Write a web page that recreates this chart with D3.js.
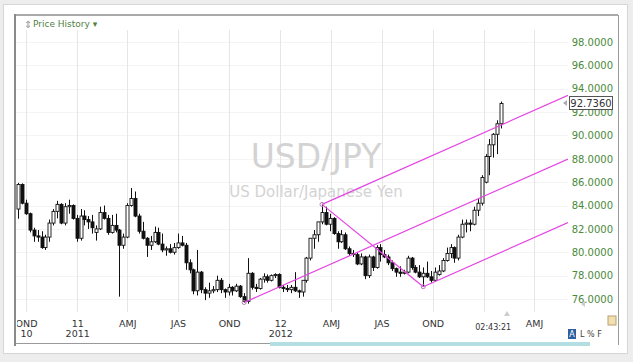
<!DOCTYPE html>
<html>
<head>
<meta charset="utf-8">
<script src="https://cdn.jsdelivr.net/npm/d3@7"></script>
<style>
  html, body { margin: 0; padding: 0; background: #ededed; }
  svg { display: block; }
  text { font-family: "DejaVu Sans", Verdana, sans-serif; }
</style>
</head>
<body>
<div id="chart"></div>
<script>
// weekly USD/JPY candles, one per week (week ending friday)
var firstWeek = "2010-09-17";
var opens = [83.7,85.8,84.2,83.3,81.9,81.4,81.3,80.4,81.3,82.5,83.5,84.1,82.5,83.9,84.0,82.9,
  81.2,83.1,82.8,82.6,81.7,82.0,83.4,82.9,81.7,82.3,81.9,80.6,81.3,84.0,84.6,83.1,81.8,81.2,80.6,80.9,81.7,80.7,80.2,80.3,80.0,80.4,80.8,80.6,79.1,78.5,76.7,78.3,76.8,76.5,76.7,76.8,77.6,76.8,76.6,77.0,76.7,77.1,76.2,75.8,78.2,77.0,76.9,77.7,77.9,77.6,78.0,78.1,
  77.0,76.9,76.8,77.0,76.7,76.6,77.6,79.5,81.2,81.5,82.6,83.4,82.4,82.9,81.6,80.9,81.5,80.3,79.9,79.8,79.0,79.6,78.0,79.6,78.7,80.4,79.8,79.6,79.1,78.6,78.3,78.2,78.3,79.5,78.7,78.3,77.9,78.2,77.9,77.6,78.1,78.4,79.3,79.9,80.4,79.5,81.3,82.4,82.5,82.4,83.6,84.2,
  86.0,88.2,89.2,90.1,91.0];
var highs = [85.94,85.9,84.5,83.4,82.1,81.9,81.8,81.5,82.8,83.7,84.4,84.2,84.2,84.5,84.1,83.2,
  83.7,83.6,83.1,83.2,82.3,83.9,84.0,83.2,83.2,83.3,82.0,81.6,84.2,85.5,85.2,83.3,82.6,81.3,81.4,82.2,82.1,81.6,80.5,80.7,80.8,81.6,81.4,80.8,79.4,78.6,80.2,78.4,77.0,77.4,77.1,78.0,77.8,76.9,77.3,77.1,77.3,77.2,76.5,79.5,78.3,77.3,77.8,78.2,78.1,78.1,78.2,78.2,
  77.2,77.2,77.2,78.3,76.8,77.6,79.6,81.2,81.9,82.6,84.1,83.9,83.3,83.0,81.8,81.9,81.7,80.5,80.2,80.0,79.9,79.7,79.8,79.7,80.6,80.7,80.2,79.8,79.3,78.7,78.8,78.5,79.7,79.6,78.9,78.9,78.7,79.2,78.4,78.7,78.9,79.5,80.4,80.7,80.5,81.5,82.8,82.8,82.8,83.9,84.6,86.6,
  88.4,89.7,90.2,91.3,92.9];
var lows = [82.87,84.1,83.2,81.7,80.9,80.9,80.3,80.2,80.9,82.3,82.9,82.4,82.3,83.3,82.8,80.9,
  81.0,82.3,82.0,81.6,81.0,81.9,82.8,81.5,81.6,81.7,76.2,80.3,81.2,83.9,83.0,81.6,81.1,79.6,80.2,80.8,80.6,80.0,79.7,79.9,79.8,80.3,80.5,78.5,78.2,76.4,76.3,76.5,75.9,76.1,76.5,76.6,76.5,76.1,76.3,76.3,76.6,76.1,75.7,75.6,76.8,76.6,76.8,77.4,77.4,77.5,77.8,76.9,
  76.6,76.6,76.5,76.6,76.1,76.2,77.4,79.3,80.3,80.9,82.4,82.3,81.8,81.5,80.3,80.8,80.2,79.7,79.6,78.9,78.9,77.7,77.8,78.4,78.6,79.2,79.5,78.9,78.4,77.9,77.9,78.1,78.2,78.5,78.2,77.8,77.05,77.8,77.4,77.5,78.0,78.3,79.2,79.5,79.1,79.3,81.2,81.7,81.8,82.3,83.1,84.0,
  85.9,86.6,88.1,88.4,90.6];
var closes = [85.8,84.2,83.3,81.9,81.4,81.3,80.4,81.3,82.5,83.5,84.1,82.5,83.9,84.0,82.9,81.2,
  83.1,82.8,82.6,82.1,82.0,83.4,82.9,81.7,82.3,81.9,80.6,81.3,84.0,84.6,83.1,81.8,81.2,80.6,80.9,81.7,80.7,80.2,80.3,80.0,80.4,80.8,80.6,79.1,78.5,76.7,78.3,76.8,76.5,76.7,76.8,77.6,76.8,76.6,77.0,76.7,77.1,76.2,75.8,78.2,77.0,76.9,77.7,77.9,77.6,78.0,78.1,77.0,
  76.9,76.8,77.0,76.7,76.6,77.6,79.5,81.2,81.5,82.6,83.4,82.4,82.9,81.6,80.9,81.5,80.3,79.9,79.8,79.0,79.6,78.0,79.6,78.7,80.4,79.8,79.6,79.1,78.6,78.3,78.2,78.3,79.5,78.7,78.3,77.9,78.2,77.9,77.6,78.3,78.4,79.3,79.9,80.4,79.5,81.3,82.4,82.5,82.4,83.6,84.2,86.4,
  88.2,89.2,90.1,91.0,92.74];

// andrews pitchfork pivots
var pivotDates = ["2011-10-28", "2012-03-16", "2012-09-14"];
var pivotPrices = [75.7, 84.1, 77.05];

// axis ticks
var priceTicks = [76, 78, 80, 82, 84, 86, 88, 90, 92, 94, 96, 98];
var quarterDates = ["2010-10-01","2011-01-01","2011-04-01","2011-07-01","2011-10-01","2012-01-01",
  "2012-04-01","2012-07-01","2012-10-01","2013-01-01","2013-04-01"];
var quarterTop = ["OND","11","AMJ","JAS","OND","12","AMJ","JAS","OND","","AMJ"];
var quarterBottom = ["10","2011","","","","2012","","","","",""];
var lastPrice = 92.736;
var clockLabel = "02:43:21";

var W = 633, H = 362;
var plot = {left: 16, right: 568, top: 30, bottom: 312};
var parse = d3.timeParse("%Y-%m-%d");

var weeks = closes.map(function(c, i) {
  return {date: d3.timeDay.offset(parse(firstWeek), 7 * i),
          o: opens[i], h: highs[i], l: lows[i], c: c};
});

var x = d3.scaleTime()
  .domain([parse(quarterDates[0]), parse(quarterDates[quarterDates.length - 1])])
  .range([26, 534]);
var y = d3.scaleLinear().domain([76, 98]).range([299, 42]);

var svg = d3.select("#chart").append("svg")
  .attr("width", W).attr("height", H);

// outer panel
svg.append("rect").attr("x", 3.5).attr("y", 4.5).attr("width", 624).attr("height", 349)
  .attr("fill", "#fff").attr("stroke", "#d6d6d6");

var defs = svg.append("defs");
defs.append("clipPath").attr("id", "plotclip").append("rect")
  .attr("x", plot.left).attr("y", plot.top)
  .attr("width", plot.right - plot.left).attr("height", plot.bottom - plot.top);
defs.append("clipPath").attr("id", "xclip").append("rect")
  .attr("x", plot.left + 1).attr("y", plot.bottom).attr("width", 560).attr("height", 30);

// grid
svg.append("g").selectAll("line.h").data(priceTicks).enter().append("line")
  .attr("x1", plot.left).attr("x2", plot.right)
  .attr("y1", function(d) { return Math.round(y(d)) + 0.5; })
  .attr("y2", function(d) { return Math.round(y(d)) + 0.5; })
  .attr("stroke", "#f4f4f4");
svg.append("g").selectAll("line.v").data(quarterDates).enter().append("line")
  .attr("x1", function(d) { return Math.round(x(parse(d))) + 0.5; })
  .attr("x2", function(d) { return Math.round(x(parse(d))) + 0.5; })
  .attr("y1", plot.top).attr("y2", plot.bottom)
  .attr("stroke", "#e6e6e6");

// watermark
svg.append("text").attr("x", 316).attr("y", 168).attr("text-anchor", "middle")
  .attr("font-size", 33).attr("fill", "#d3d3d3").text("USD/JPY");
svg.append("text").attr("x", 316).attr("y", 197).attr("text-anchor", "middle")
  .attr("font-size", 15).attr("fill", "#d3d3d3").text("US Dollar/Japanese Yen");

// candles
var cg = svg.append("g").attr("clip-path", "url(#plotclip)");
var candle = cg.selectAll("g.candle").data(weeks).enter().append("g");
candle.append("line")
  .attr("x1", function(d) { return Math.round(x(d.date)) + 0.5; })
  .attr("x2", function(d) { return Math.round(x(d.date)) + 0.5; })
  .attr("y1", function(d) { return y(d.h); })
  .attr("y2", function(d) { return y(d.l); })
  .attr("stroke", "#111");
candle.append("rect")
  .attr("x", function(d) { return Math.round(x(d.date)) - 1; })
  .attr("width", 3)
  .attr("y", function(d) { return y(Math.max(d.o, d.c)); })
  .attr("height", function(d) { return Math.max(1, Math.abs(y(d.o) - y(d.c))); })
  .attr("fill", function(d) { return d.c >= d.o ? "#fff" : "#111"; })
  .attr("stroke", "#111").attr("stroke-width", 0.9);

// pitchfork
var piv = pivotDates.map(function(d, i) { return [x(parse(d)), y(pivotPrices[i])]; });
var mid = [(piv[1][0] + piv[2][0]) / 2, (piv[1][1] + piv[2][1]) / 2];
var slope = (mid[1] - piv[0][1]) / (mid[0] - piv[0][0]);
var pf = cg.append("g").attr("stroke", "#e444e4").attr("stroke-width", 1.2).attr("fill", "none");
piv.forEach(function(p) {
  pf.append("line").attr("x1", p[0]).attr("y1", p[1])
    .attr("x2", plot.right).attr("y2", p[1] + slope * (plot.right - p[0]));
});
pf.append("line").attr("x1", piv[1][0]).attr("y1", piv[1][1])
  .attr("x2", piv[2][0]).attr("y2", piv[2][1]);
pf.selectAll("circle").data(piv).enter().append("circle")
  .attr("cx", function(p) { return p[0]; }).attr("cy", function(p) { return p[1]; })
  .attr("r", 2).attr("stroke", "#b080b0").attr("stroke-width", 1);

// y axis
var yAxis = svg.append("g").attr("transform", "translate(613,0)")
  .call(d3.axisLeft(y).tickValues(priceTicks).tickFormat(d3.format(".4f")).tickSize(0).tickPadding(0));
yAxis.select(".domain").remove();
yAxis.selectAll("text").attr("font-family", "DejaVu Sans, Verdana, sans-serif")
  .attr("font-size", 10).attr("fill", "#4a8a3c");

// last price marker (covers the 92 label, as in the reference)
var ly = Math.round(y(lastPrice));
svg.append("path").attr("d", "M563," + ly + "l4,-3v6z").attr("fill", "#aaa");
svg.append("rect").attr("x", 569.5).attr("y", ly - 6.5).attr("width", 43).attr("height", 13)
  .attr("fill", "#fff").attr("stroke", "#555");
svg.append("text").attr("x", 591).attr("y", ly + 4).attr("text-anchor", "middle")
  .attr("font-size", 10).attr("fill", "#333").text(d3.format(".4f")(lastPrice));

// x axis (clipped at the plot's left edge, like the reference)
var xWrap = svg.append("g").attr("clip-path", "url(#xclip)");
var xAxis = xWrap.append("g")
  .call(d3.axisBottom(x).tickValues(quarterDates.map(parse)).tickSize(0).tickPadding(0)
    .tickFormat(function(d, i) { return quarterTop[i]; }));
xAxis.select(".domain").remove();
xAxis.selectAll(".tick text").attr("font-size", 9.5).attr("fill", "#333")
  .attr("y", 327).attr("dy", 0)
  .each(function(d, i) {
    if (quarterBottom[i]) {
      d3.select(this).append("tspan").attr("x", 0).attr("dy", 10).text(quarterBottom[i]);
    }
  });
svg.append("text").attr("x", x(weeks[weeks.length - 1].date) - 8).attr("y", 330)
  .attr("text-anchor", "middle").attr("font-size", 8).attr("fill", "#333").text(clockLabel);

// frame
svg.append("line").attr("x1", 14).attr("x2", 618).attr("y1", 15).attr("y2", 15)
  .attr("stroke", "#a9a9a9").attr("stroke-width", 2);
svg.append("line").attr("x1", 15).attr("x2", 15).attr("y1", 14).attr("y2", 346)
  .attr("stroke", "#8a8a8a").attr("stroke-width", 2);
svg.append("line").attr("x1", 618.5).attr("x2", 618.5).attr("y1", 15).attr("y2", 345)
  .attr("stroke", "#9a9a9a");
svg.append("line").attr("x1", 16).attr("x2", 272).attr("y1", 343.5).attr("y2", 343.5)
  .attr("stroke", "#9a9a9a");
svg.append("rect").attr("x", 270).attr("y", 342).attr("width", 320).attr("height", 4)
  .attr("fill", "#b3dfe2");

// header
svg.append("text").attr("x", 24).attr("y", 28).attr("font-size", 10).attr("fill", "#999").text("\u21D5");
svg.append("text").attr("x", 33).attr("y", 27).attr("font-size", 9).attr("fill", "#4f7f3f")
  .text("Price History \u25BE");

// small scroll markers and tool icons
svg.append("path").attr("d", "M504,316l3,-5l3,5z").attr("fill", "#ccc");
svg.append("path").attr("d", "M581,304l4,-3v6z").attr("fill", "#ccc");
svg.append("rect").attr("x", 608).attr("y", 316).attr("width", 8).attr("height", 9)
  .attr("fill", "#f3e0b0").attr("stroke", "#b9a070");
svg.append("rect").attr("x", 568).attr("y", 329).attr("width", 8).attr("height", 10).attr("fill", "#2f5f9f");
svg.append("text").attr("x", 572).attr("y", 337).attr("text-anchor", "middle")
  .attr("font-size", 8).attr("fill", "#fff").text("A");
svg.append("text").attr("x", 580).attr("y", 337).attr("font-size", 8).attr("fill", "#444").text("L % F");
</script>
</body>
</html>
